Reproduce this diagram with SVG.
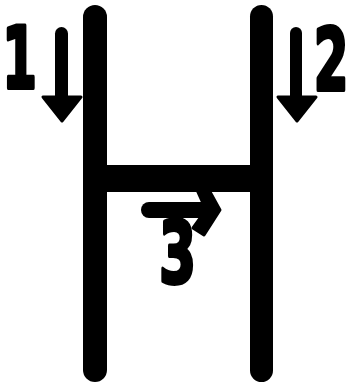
<svg xmlns="http://www.w3.org/2000/svg" width="350" height="388" viewBox="0 0 350 388">
<style>
.bar{fill:#000}
.num{font-family:"DejaVu Sans",sans-serif;font-weight:bold;font-size:86px;fill:#000;stroke:#000;stroke-width:4;stroke-linejoin:round;text-anchor:middle}
.head{fill:#000;stroke:#000;stroke-width:3;stroke-linejoin:round}
</style>
<rect width="350" height="388" fill="#fff"/>
<g id="frame">
<rect class="bar" x="83" y="5" width="24" height="377" rx="12"/>
<rect class="bar" x="250" y="5" width="23" height="377" rx="11.5"/>
<rect class="bar" x="95" y="165" width="167" height="27"/>
</g>
<g id="connectors">
<g id="arrow1">
<rect class="bar" x="55" y="27" width="13" height="76" rx="6.5"/>
<polygon class="head" points="43,97 81,97 62,121"/>
</g>
<g id="arrow2">
<rect class="bar" x="290" y="27" width="12" height="76" rx="6"/>
<polygon class="head" points="278,97 316,97 297,121"/>
</g>
<g id="arrow3">
<rect class="bar" x="141" y="202" width="70" height="16" rx="8"/>
<polygon class="head" points="197,190 209,190 220,210 204,235 193,228 206,210"/>
</g>
</g>
<g id="label1"><text class="num" transform="translate(19.5,88) scale(0.58,1)">1</text></g>
<g id="label2"><text class="num" transform="translate(331,90) scale(0.58,1)">2</text></g>
<g id="label3"><text class="num" transform="translate(177.5,283) scale(0.62,1)">3</text></g>
</svg>
